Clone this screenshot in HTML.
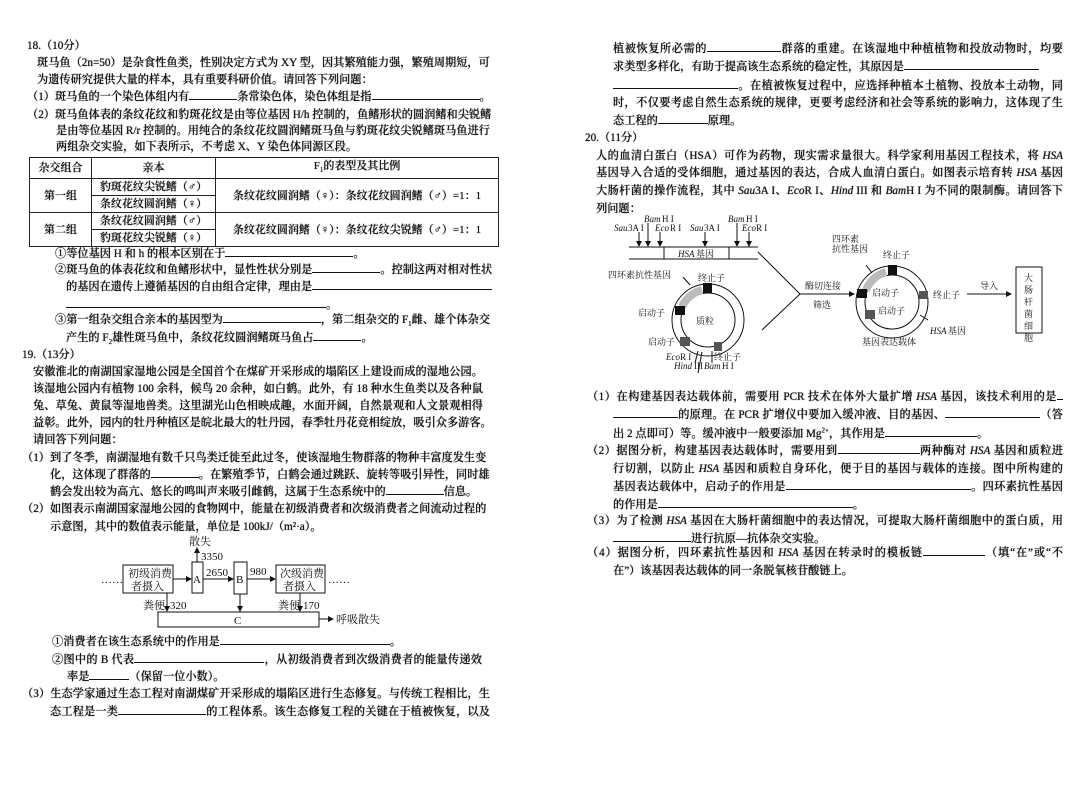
<!DOCTYPE html>
<html><head><meta charset="utf-8">
<style>
html,body{margin:0;padding:0;background:#fff;}
body{width:1088px;height:800px;position:relative;overflow:hidden;font-family:"Liberation Serif","Noto Serif CJK SC",serif;color:#111;}
.l{position:absolute;white-space:nowrap;font-size:11.2px;line-height:18px;font-weight:500;text-shadow:0 0 0.7px #000;}
.j{text-align:justify;text-align-last:justify;}
.b{display:inline-block;border-bottom:1px solid #111;height:11px;vertical-align:baseline;}
i{font-style:italic}
table{position:absolute;left:29px;top:157px;border-collapse:collapse;font-size:11px;table-layout:fixed;width:469px;}
td{border:1px solid #222;padding:0;height:16px;line-height:16px;text-align:center;white-space:nowrap;font-weight:500;overflow:visible;text-shadow:0 0 0.7px #000;}
svg text{font-family:"Liberation Serif","Noto Serif CJK SC",serif;}
</style></head><body>

<!-- LEFT COLUMN -->
<div class="l" style="left:27px;top:37px">18.（10分）</div>
<div class="l j" style="left:37px;top:54px;width:452px">斑马鱼（2n=50）是杂食性鱼类，性别决定方式为 XY 型，因其繁殖能力强，繁殖周期短，可</div>
<div class="l" style="left:37px;top:71px">为遗传研究提供大量的样本，具有重要科研价值。请回答下列问题：</div>
<div class="l" style="left:27px;top:88px">（1）斑马鱼的一个染色体组内有<span class="b" style="width:48px"></span>条常染色体，染色体组是指<span class="b" style="width:108px"></span>。</div>
<div class="l j" style="left:27px;top:106px;width:462px">（2）斑马鱼体表的条纹花纹和豹斑花纹是由等位基因 H/h 控制的，鱼鳍形状的圆润鳍和尖锐鳍</div>
<div class="l j" style="left:56px;top:122px;width:433px">是由等位基因 R/r 控制的。用纯合的条纹花纹圆润鳍斑马鱼与豹斑花纹尖锐鳍斑马鱼进行</div>
<div class="l" style="left:56px;top:138px">两组杂交实验，如下表所示，不考虑 X、Y 染色体同源区段。</div>

<table>
<colgroup><col style="width:62px"><col style="width:124px"><col style="width:283px"></colgroup>
<tr><td>杂交组合</td><td>亲本</td><td>F<sub style="font-size:7px">1</sub>的表型及其比例</td></tr>
<tr><td rowspan="2">第一组</td><td>豹斑花纹尖锐鳍（♂）</td><td rowspan="2">条纹花纹圆润鳍（♀）：条纹花纹圆润鳍（♂）=1：1</td></tr>
<tr><td>条纹花纹圆润鳍（♀）</td></tr>
<tr><td rowspan="2">第二组</td><td>条纹花纹圆润鳍（♂）</td><td rowspan="2">条纹花纹圆润鳍（♀）：条纹花纹尖锐鳍（♂）=1：1</td></tr>
<tr><td>豹斑花纹尖锐鳍（♀）</td></tr>
</table>

<div class="l" style="left:55px;top:245px">①等位基因 H 和 h 的根本区别在于<span class="b" style="width:128px"></span>。</div>
<div class="l j" style="left:55px;top:261px;width:434px">②斑马鱼的体表花纹和鱼鳍形状中，显性性状分别是<span class="b" style="width:68px"></span>。控制这两对相对性状</div>
<div class="l" style="left:66px;top:278px">的基因在遗传上遵循基因的自由组合定律，理由是<span class="b" style="width:180px"></span></div>
<div class="l" style="left:66px;top:296px"><span class="b" style="width:260px"></span>。</div>
<div class="l j" style="left:55px;top:311px;width:434px">③第一组杂交组合亲本的基因型为<span class="b" style="width:98px"></span>，第二组杂交的 F<sub style="font-size:7px">1</sub>雌、雄个体杂交</div>
<div class="l" style="left:66px;top:329px">产生的 F<sub style="font-size:7px">2</sub>雄性斑马鱼中，条纹花纹圆润鳍斑马鱼占<span class="b" style="width:48px"></span>。</div>
<div class="l" style="left:22px;top:346px">19.（13分）</div>
<div class="l j" style="left:33px;top:363px;width:450px">安徽淮北的南湖国家湿地公园是全国首个在煤矿开采形成的塌陷区上建设而成的湿地公园。</div>
<div class="l j" style="left:33px;top:380px;width:450px">该湿地公园内有植物 100 余科，候鸟 20 余种，如白鹤。此外，有 18 种水生鱼类以及各种鼠</div>
<div class="l j" style="left:33px;top:397px;width:450px">兔、草兔、黄鼠等湿地兽类。这里湖光山色相映成趣，水面开阔，自然景观和人文景观相得</div>
<div class="l j" style="left:33px;top:414px;width:450px">益彰。此外，园内的牡丹种植区是皖北最大的牡丹园，春季牡丹花竞相绽放，吸引众多游客。</div>
<div class="l" style="left:33px;top:431px">请回答下列问题：</div>
<div class="l j" style="left:22px;top:449px;width:461px">（1）到了冬季，南湖湿地有数千只鸟类迁徙至此过冬，使该湿地生物群落的物种丰富度发生变</div>
<div class="l j" style="left:50px;top:466px;width:433px">化，这体现了群落的<span class="b" style="width:48px"></span>。在繁殖季节，白鹤会通过跳跃、旋转等吸引异性，同时雄</div>
<div class="l" style="left:50px;top:483px">鹤会发出较为高亢、悠长的鸣叫声来吸引雌鹤，这属于生态系统中的<span class="b" style="width:58px"></span>信息。</div>
<div class="l j" style="left:22px;top:500px;width:461px">（2）如图表示南湖国家湿地公园的食物网中，能量在初级消费者和次级消费者之间流动过程的</div>
<div class="l" style="left:50px;top:518px">示意图，其中的数值表示能量，单位是 100kJ/（m²·a）。</div>

<svg style="position:absolute;left:0;top:0" width="540" height="640" viewBox="0 0 540 640">
<defs><marker id="a" markerWidth="6" markerHeight="6" refX="5" refY="3" orient="auto"><path d="M0,0 L6,3 L0,6z" fill="#111"/></marker></defs>
<g stroke="#111" stroke-width="1" fill="none">
<rect x="123" y="565" width="50" height="28"/>
<rect x="192" y="562" width="11" height="31"/>
<rect x="234" y="562" width="13" height="32"/>
<rect x="276" y="565" width="49" height="28"/>
<rect x="158" y="612" width="161" height="15"/>
<line x1="173" y1="579" x2="191" y2="579" marker-end="url(#a)"/>
<line x1="203" y1="579" x2="233" y2="579" marker-end="url(#a)"/>
<line x1="247" y1="579" x2="275" y2="579" marker-end="url(#a)"/>
<line x1="197" y1="562" x2="197" y2="548" marker-end="url(#a)"/>
<line x1="167" y1="593" x2="167" y2="611" marker-end="url(#a)"/>
<line x1="240" y1="594" x2="240" y2="611" marker-end="url(#a)"/>
<line x1="300" y1="593" x2="300" y2="611" marker-end="url(#a)"/>
<line x1="319" y1="619" x2="333" y2="619" marker-end="url(#a)"/>
</g>
<g font-size="11" fill="#111">
<text x="101" y="583">……</text><text x="328" y="583">……</text>
<text x="128" y="577">初级消费</text><text x="131" y="590">者摄入</text>
<text x="280" y="577">次级消费</text><text x="283" y="590">者摄入</text>
<text x="193" y="583">A</text><text x="236" y="583">B</text>
<text x="234" y="624">C</text>
<text x="189" y="545">散失</text>
<text x="201" y="560">3350</text>
<text x="206" y="576">2650</text>
<text x="250" y="575">980</text>
<text x="143" y="609">粪便</text><text x="170" y="609">320</text>
<text x="278" y="609">粪便</text><text x="303" y="609">170</text>
<text x="336" y="623">呼吸散失</text>
</g>
</svg>

<div class="l" style="left:52px;top:633px">①消费者在该生态系统中的作用是<span class="b" style="width:170px"></span>。</div>
<div class="l j" style="left:52px;top:651px;width:430px">②图中的 B 代表<span class="b" style="width:130px"></span>，从初级消费者到次级消费者的能量传递效</div>
<div class="l" style="left:67px;top:668px">率是<span class="b" style="width:40px"></span>（保留一位小数）。</div>
<div class="l j" style="left:22px;top:685px;width:468px">（3）生态学家通过生态工程对南湖煤矿开采形成的塌陷区进行生态修复。与传统工程相比，生</div>
<div class="l j" style="left:50px;top:703px;width:440px">态工程是一类<span class="b" style="width:88px"></span>的工程体系。该生态修复工程的关键在于植被恢复，以及</div>

<!-- RIGHT COLUMN -->
<div class="l j" style="left:613px;top:40px;width:450px">植被恢复所必需的<span class="b" style="width:74px"></span>群落的重建。在该湿地中种植植物和投放动物时，均要</div>
<div class="l" style="left:613px;top:58px">求类型多样化，有助于提高该生态系统的稳定性，其原因是<span class="b" style="width:135px"></span></div>
<div class="l j" style="left:613px;top:77px;width:450px"><span class="b" style="width:125px"></span>。在植被恢复过程中，应选择种植本土植物、投放本土动物，同</div>
<div class="l j" style="left:613px;top:94px;width:450px">时，不仅要考虑自然生态系统的规律，更要考虑经济和社会等系统的影响力，这体现了生</div>
<div class="l" style="left:613px;top:112px">态工程的<span class="b" style="width:50px"></span>原理。</div>
<div class="l" style="left:585px;top:129px">20.（11分）</div>
<div class="l j" style="left:596px;top:147px;width:467px">人的血清白蛋白（HSA）可作为药物，现实需求量很大。科学家利用基因工程技术，将 <i>HSA</i></div>
<div class="l j" style="left:596px;top:164px;width:467px">基因导入合适的受体细胞，通过基因的表达，合成人血清白蛋白。如图表示培育转 <i>HSA</i> 基因</div>
<div class="l j" style="left:596px;top:182px;width:467px">大肠杆菌的操作流程，其中 <i>Sau</i>3A I、<i>Eco</i>R I、<i>Hind</i> III 和 <i>Bam</i>H I 为不同的限制酶。请回答下</div>
<div class="l" style="left:596px;top:200px">列问题：</div>

<svg style="position:absolute;left:590px;top:205px" width="490" height="180" viewBox="0 0 490 180">
<defs><marker id="b" markerWidth="6" markerHeight="6" refX="5" refY="3" orient="auto"><path d="M0,0 L6,3 L0,6z" fill="#111"/></marker></defs>
<g stroke="#111" stroke-width="1" fill="none">
<line x1="39" y1="42" x2="168" y2="42"/><line x1="39" y1="54" x2="168" y2="54"/>
<rect x="74" y="42" width="65" height="12"/>
<line x1="49" y1="27" x2="49" y2="41" marker-end="url(#b)"/>
<line x1="58" y1="18" x2="58" y2="41" marker-end="url(#b)"/>
<line x1="70" y1="27" x2="70" y2="41" marker-end="url(#b)"/>
<line x1="115" y1="27" x2="115" y2="41" marker-end="url(#b)"/>
<line x1="147" y1="18" x2="147" y2="41" marker-end="url(#b)"/>
<line x1="159" y1="27" x2="159" y2="41" marker-end="url(#b)"/>
<circle cx="118" cy="115" r="36"/><circle cx="118" cy="115" r="27"/>
<circle cx="302" cy="97" r="36"/><circle cx="302" cy="97" r="27"/>
<polyline points="168,47 210,89 172,125"/>
<line x1="210" y1="89" x2="264" y2="89" marker-end="url(#b)"/>
<line x1="377" y1="89" x2="421" y2="89" marker-end="url(#b)"/>
<rect x="426" y="62" width="26" height="66"/>
<line x1="93" y1="72" x2="100" y2="80"/>
<line x1="276" y1="60" x2="282" y2="68"/>
<line x1="338" y1="115" x2="330" y2="110"/>
<line x1="108" y1="146" x2="105" y2="158"/><line x1="112" y1="147" x2="108" y2="168"/><line x1="122" y1="146" x2="122" y2="158"/>
</g>
<path d="M92,102 A30,30 0 0 1 112,85" stroke="#bbb" stroke-width="8" fill="none"/>
<path d="M276,85 A30,30 0 0 1 296,67" stroke="#bbb" stroke-width="8" fill="none"/>
<rect x="113" y="78" width="9" height="10" fill="#111"/>
<rect x="85" y="101" width="10" height="9" fill="#111"/>
<rect x="90" y="132" width="10" height="9" fill="#555"/>
<rect x="124" y="137" width="8" height="9" fill="#555"/>
<rect x="298" y="60" width="9" height="10" fill="#111"/>
<rect x="267" y="84" width="10" height="9" fill="#111"/>
<rect x="275" y="105" width="10" height="9" fill="#555"/>
<rect x="329" y="86" width="9" height="8" fill="#555"/>
<g font-size="9" fill="#111">
<text x="54" y="17" font-style="italic">Bam</text><text x="72" y="17">H I</text>
<text x="24" y="26" font-style="italic">Sau</text><text x="38" y="26">3A I</text>
<text x="65" y="26" font-style="italic">Eco</text><text x="80" y="26">R I</text>
<text x="100" y="26" font-style="italic">Sau</text><text x="114" y="26">3A I</text>
<text x="138" y="17" font-style="italic">Bam</text><text x="156" y="17">H I</text>
<text x="152" y="26" font-style="italic">Eco</text><text x="166" y="26">R I</text>
<text x="88" y="52" font-style="italic">HSA</text><text x="106" y="52">基因</text>
<text x="18" y="73">四环素抗性基因</text>
<text x="108" y="76">终止子</text>
<text x="48" y="111">启动子</text>
<text x="106" y="119">质粒</text>
<text x="58" y="140">启动子</text>
<text x="76" y="155" font-style="italic">Eco</text><text x="90" y="155">R I</text>
<text x="84" y="164" font-style="italic">Hind</text><text x="104" y="164">III</text>
<text x="114" y="164" font-style="italic">Bam</text><text x="132" y="164">H I</text>
<text x="124" y="155">终止子</text>
<text x="215" y="84">酶切连接</text>
<text x="223" y="103">筛选</text>
<text x="242" y="37">四环素</text><text x="242" y="47">抗性基因</text>
<text x="293" y="53">终止子</text>
<text x="282" y="91">启动子</text>
<text x="288" y="109">启动子</text>
<text x="343" y="93">终止子</text>
<text x="340" y="129" font-style="italic">HSA</text><text x="358" y="129">基因</text>
<text x="272" y="140">基因表达载体</text>
<text x="390" y="84">导入</text>
<text x="434" y="76">大</text><text x="434" y="88">肠</text><text x="434" y="100">杆</text><text x="434" y="112">菌</text><text x="434" y="124">细</text><text x="434" y="136">胞</text>
</g>
</svg>

<div class="l j" style="left:587px;top:388px;width:476px">（1）在构建基因表达载体前，需要用 PCR 技术在体外大量扩增 <i>HSA</i> 基因，该技术利用的是<span class="b" style="width:6px"></span></div>
<div class="l j" style="left:613px;top:406px;width:450px"><span class="b" style="width:65px"></span>的原理。在 PCR 扩增仪中要加入缓冲液、目的基因、<span class="b" style="width:95px"></span>（答</div>
<div class="l" style="left:613px;top:425px">出 2 点即可）等。缓冲液中一般要添加 Mg<sup style="font-size:7px;line-height:0">2+</sup>，其作用是<span class="b" style="width:92px"></span>。</div>
<div class="l j" style="left:587px;top:442px;width:476px">（2）据图分析，构建基因表达载体时，需要用到<span class="b" style="width:82px"></span>两种酶对 <i>HSA</i> 基因和质粒进</div>
<div class="l j" style="left:613px;top:460px;width:450px">行切割，以防止 <i>HSA</i> 基因和质粒自身环化，便于目的基因与载体的连接。图中所构建的</div>
<div class="l j" style="left:613px;top:478px;width:450px">基因表达载体中，启动子的作用是<span class="b" style="width:185px"></span>。四环素抗性基因</div>
<div class="l" style="left:613px;top:496px">的作用是<span class="b" style="width:195px"></span>。</div>
<div class="l j" style="left:587px;top:512px;width:476px">（3）为了检测 <i>HSA</i> 基因在大肠杆菌细胞中的表达情况，可提取大肠杆菌细胞中的蛋白质，用</div>
<div class="l" style="left:613px;top:530px"><span class="b" style="width:78px"></span>进行抗原—抗体杂交实验。</div>
<div class="l j" style="left:587px;top:544px;width:476px">（4）据图分析，四环素抗性基因和 <i>HSA</i> 基因在转录时的模板链<span class="b" style="width:62px"></span>（填“在”或“不</div>
<div class="l" style="left:613px;top:562px">在”）该基因表达载体的同一条脱氧核苷酸链上。</div>

</body></html>
